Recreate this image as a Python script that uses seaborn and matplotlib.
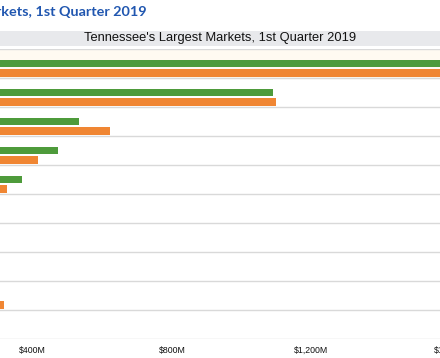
import numpy as np
import pandas as pd
import matplotlib
matplotlib.use("Agg")
import matplotlib.pyplot as plt
from matplotlib.patches import Rectangle
from matplotlib.ticker import FixedLocator, FuncFormatter
import seaborn as sns

# ---- data (millions of dollars) ----
markets = ["Davidson", "Shelby", "Knox", "Hamilton", "Rutherford",
           "Williamson", "Sumner", "Montgomery", "Wilson", "Sullivan"]
q1_2018 = [1760, 1091, 532, 474, 371, 280, 260, 240, 290, 230]
q1_2019 = [1820, 1099, 623, 417, 328, 290, 270, 250, 317, 240]
series_names = ["Q1 2017", "Q1 2018", "Q1 2019"]   # first level has no bars shown
series_colors = ["#3b6fc2", "#4e9b3b", "#f08633"]
x_ticks = [400, 800, 1200, 1600]
title_text = "Tennessee's Largest Markets, 1st Quarter 2019"

df = pd.DataFrame({
    "market": markets * 2,
    "sales": q1_2018 + q1_2019,
    "series": [series_names[1]] * len(markets) + [series_names[2]] * len(markets),
})

sns.set_theme(style="white")
plt.rcParams["font.family"] = ["Liberation Sans", "DejaVu Sans"]

fig = plt.figure(figsize=(4.4, 3.58), dpi=100)
ax = fig.add_axes([-0.2432, 0.05307, 1.3475, 0.8101])

ax.axhspan(-0.5, 0.5, color="#fffaf1", zorder=0)

sns.barplot(data=df, y="market", x="sales", hue="series", orient="h",
            hue_order=series_names, order=markets,
            palette=dict(zip(series_names, series_colors)), saturation=1,
            width=1.0, gap=0.2, legend=False, ax=ax,
            edgecolor="none", errorbar=None, zorder=3)

ax.set_xlim(0, 1700)
ax.set_ylim(len(markets) - 0.5, -0.5)
ax.xaxis.set_major_locator(FixedLocator(x_ticks))
ax.xaxis.set_major_formatter(FuncFormatter(lambda v, p: f"${v:,.0f}M"))
ax.tick_params(axis="x", labelsize=6.3, length=2, width=0.6, color="#cccccc",
               pad=3, labelcolor="#111111")
ax.set_yticks([])
ax.yaxis.set_minor_locator(FixedLocator(np.arange(-0.5, len(markets), 1.0)))
ax.grid(True, which="minor", axis="y", color="#d9d9d9", lw=1.0, zorder=1)
ax.grid(False, which="major")
ax.set_xlabel("")
ax.set_ylabel("")
for s in ax.spines.values():
    s.set_visible(False)

# grey title band
fig.patches.append(Rectangle((0, 0.8715), 1, 0.0419, transform=fig.transFigure,
                             facecolor="#e8e9ec", edgecolor="none", zorder=0))
fig.text(0.5, 0.8925, title_text, ha="center", va="center",
         fontsize=9.3, color="#111111")

# page heading (cropped at left)
fig.text(0.333, 0.966, "Tennessee's Largest Markets, 1st Quarter 2019",
         ha="right", va="center", fontsize=10.4, fontweight="bold",
         color="#2157b0", family=["Lato", "DejaVu Sans"])

fig.savefig("out.png", dpi=100)
